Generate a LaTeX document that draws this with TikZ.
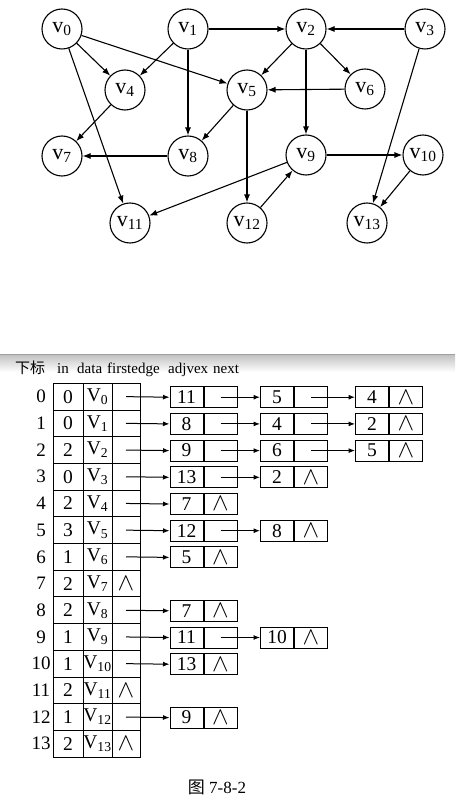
\documentclass[tikz,border=0pt]{standalone}
\usepackage{fontspec}
\setmainfont{Liberation Serif}
\newfontfamily\cjk{Noto Sans CJK SC}
\usetikzlibrary{arrows.meta}
\begin{document}
\begin{tikzpicture}[x=1pt,y=-1pt,
  vtx/.style={circle,draw,line width=1.1pt,minimum size=40pt,inner sep=0pt,font=\fontsize{22}{24}\selectfont},
  edge/.style={line width=1.1pt,-{Latex[length=8pt,width=6pt]}},
  tcell/.style={draw,line width=1pt,minimum height=26.7pt,inner sep=0pt,font=\fontsize{19.5}{20}\selectfont},
  lcell/.style={draw,line width=1pt,minimum width=33pt,minimum height=21pt,inner sep=0pt,font=\fontsize{19.5}{20}\selectfont},
  plain/.style={inner sep=0pt,font=\fontsize{19}{20}\selectfont},
  hdr/.style={inner sep=0pt,anchor=base west,font=\fontsize{15}{17}\selectfont},
  tarrow/.style={line width=1pt,-{Latex[length=6.5pt,width=5pt]}},
  nil/.style={inner sep=0pt,font=\fontsize{26}{27}\selectfont}
]
\fill[white] (0,0) rectangle (455,802);
\useasboundingbox (0,0) rectangle (455,802);

% ---------- graph ----------
\node[vtx] (v0)  at (62,29)   {v\textsubscript{0}};
\node[vtx] (v1)  at (188,29)  {v\textsubscript{1}};
\node[vtx] (v2)  at (306,29)  {v\textsubscript{2}};
\node[vtx] (v3)  at (425,29)  {v\textsubscript{3}};
\node[vtx] (v4)  at (125,90)  {v\textsubscript{4}};
\node[vtx] (v5)  at (247,90)  {v\textsubscript{5}};
\node[vtx] (v6)  at (365,89)  {v\textsubscript{6}};
\node[vtx] (v7)  at (62,156)  {v\textsubscript{7}};
\node[vtx] (v8)  at (188,156) {v\textsubscript{8}};
\node[vtx] (v9)  at (306,155) {v\textsubscript{9}};
\node[vtx] (v10) at (423,155) {v\textsubscript{10}};
\node[vtx] (v11) at (130,223) {v\textsubscript{11}};
\node[vtx] (v12) at (247,223) {v\textsubscript{12}};
\node[vtx] (v13) at (367,223) {v\textsubscript{13}};

\foreach \a/\b in {v0/v4,v0/v5,v0/v11,v1/v4,v1/v8,v1/v2,v2/v5,v2/v6,v2/v9,
  v3/v2,v3/v13,v4/v7,v5/v8,v5/v12,v6/v5,v8/v7,v9/v10,v9/v11,v10/v13,v12/v9}
  \draw[edge] (\a) -- (\b);

% ---------- separator ----------
\shade[top color=gray!50,bottom color=white] (0,354) rectangle (455,372);
\draw[gray!75,line width=0.8pt] (0,354) -- (455,354);

% ---------- header ----------
\node[hdr] (h0) at (15,373) {\cjk 下标};
\node[hdr] (h1) at (57,373) {in};
\node[hdr] (h2) at (77,373) {data};
\node[hdr] (h3) at (107,373) {firstedge};
\node[hdr] (h4) at (168,373) {adjvex};
\node[hdr] (h5) at (213,373) {next};

% ---------- vertex table ----------
\foreach \r/\d in {0/0,1/0,2/2,3/0,4/2,5/3,6/1,7/2,8/2,9/1,10/1,11/2,12/1,13/2}{
  \node[plain] (ix\r) at (41,{396.65+26.7*\r}) {\r};
  \node[tcell,minimum width=30pt] (in\r) at (68,{396.65+26.7*\r}) {\d};
  \node[tcell,minimum width=29pt] (d\r) at (97.5,{396.65+26.7*\r}) {V\textsubscript{\r}};
  \node[tcell,minimum width=28pt] (f\r) at (126,{396.65+26.7*\r}) {};
}
\foreach \r in {7,11,13} \node[nil] at (f\r) {$\wedge$};

% ---------- edge lists ----------
\foreach \r/\k/\v/\n in {0/1/11/1,0/2/5/1,0/3/4/0,1/1/8/1,1/2/4/1,1/3/2/0,
  2/1/9/1,2/2/6/1,2/3/5/0,3/1/13/1,3/2/2/0,4/1/7/0,5/1/12/1,5/2/8/0,6/1/5/0,
  8/1/7/0,9/1/11/1,9/2/10/0,10/1/13/0,12/1/9/0}{
  \pgfmathsetmacro\xx{\k==1 ? 186.5 : (\k==2 ? 277 : 372)}
  \node[lcell] (a\r k\k) at (\xx,{397.2+26.7*\r}) {\v};
  \node[lcell,anchor=west] (b\r k\k) at (a\r k\k.east) {};
  \ifnum\n=0 \node[nil] at (b\r k\k) {$\wedge$}; \fi
}
\foreach \r in {0,1,2,3,4,5,6,8,9,10,12}
  \draw[tarrow] (f\r.center) -- (a\r k1.west);
\foreach \r/\k/\j in {0/1/2,0/2/3,1/1/2,1/2/3,2/1/2,2/2/3,3/1/2,5/1/2,9/1/2}
  \draw[tarrow] (b\r k\k.center) -- (a\r k\j.west);

% ---------- caption ----------
\node[inner sep=0pt,font=\fontsize{17}{19}\selectfont] (cap) at (217,787) {{\cjk 图} 7-8-2};
\end{tikzpicture}
\end{document}
